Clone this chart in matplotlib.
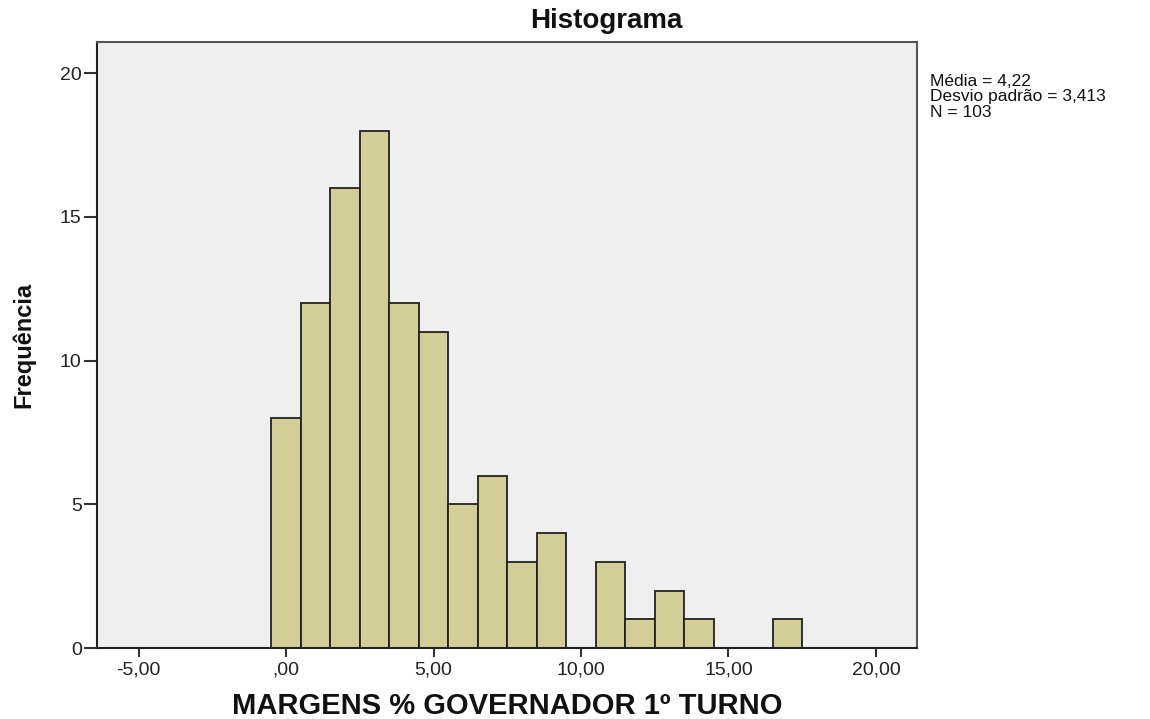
import matplotlib
matplotlib.use("Agg")
import matplotlib.pyplot as plt
import numpy as np

plt.rcParams['font.family'] = ['Liberation Sans', 'DejaVu Sans']

# Data: histogram bins (width 1) and counts
bin_left_edges = [-0.5, 0.5, 1.5, 2.5, 3.5, 4.5, 5.5, 6.5, 7.5, 8.5, 9.5,
                  10.5, 11.5, 12.5, 13.5, 14.5, 15.5, 16.5]
counts = [8, 12, 16, 18, 12, 11, 5, 6, 3, 4, 0, 3, 1, 2, 1, 0, 0, 1]
bin_width = 1.0
x_ticks = [-5, 0, 5, 10, 15, 20]
x_tick_labels = ["-5,00", ",00", "5,00", "10,00", "15,00", "20,00"]
y_ticks = [0, 5, 10, 15, 20]
stats_text = "Média = 4,22\nDesvio padrão = 3,413\nN = 103"

fig = plt.figure(figsize=(11.5, 7.19), dpi=100)
ax = fig.add_axes([0.0843, 0.0987, 0.713, 0.8429])
ax.set_facecolor('#EFEFEF')

for left, c in zip(bin_left_edges, counts):
    if c > 0:
        ax.bar(left, c, width=bin_width, align='edge', color='#D3CE98',
               edgecolor='#222222', linewidth=1.3)

ax.set_xlim(-6.42, 21.39)
ax.set_ylim(0, 21.08)
ax.set_xticks(x_ticks)
ax.set_xticklabels(x_tick_labels, fontsize=14, color='#222222')
ax.set_yticks(y_ticks)
ax.set_yticklabels([str(v) for v in y_ticks], fontsize=14, color='#222222')
ax.tick_params(axis='y', length=9.5, width=1.5, color='#333333', pad=1.5)
ax.tick_params(axis='x', length=6.5, width=1.5, color='#333333', pad=3)

for s in ['left', 'bottom']:
    ax.spines[s].set_color('#222222')
    ax.spines[s].set_linewidth(1.5)
for s in ['top', 'right']:
    ax.spines[s].set_color('#555555')
    ax.spines[s].set_linewidth(1.5)

fig.text(0.527, 0.971, "Histograma", fontsize=20, fontweight='bold',
         ha='center', va='center', color='#111111')
ax.set_xlabel("MARGENS % GOVERNADOR 1º TURNO", fontsize=21, fontweight='bold',
              labelpad=10, color='#111111')
ax.set_ylabel("Frequência", fontsize=17, fontweight='bold', labelpad=18,
              color='#111111')

fig.text(0.809, 0.897, stats_text, fontsize=12.5, va='top', ha='left',
         linespacing=1.02, color='#111111')

fig.savefig("out.png", dpi=100)
